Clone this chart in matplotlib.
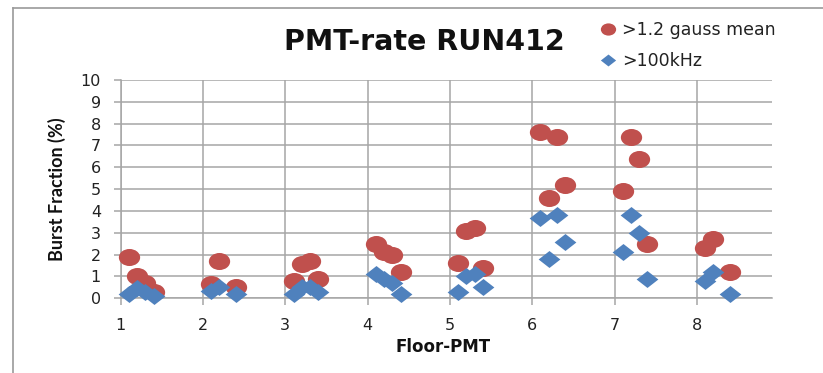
import matplotlib
matplotlib.use("Agg")
import numpy as np
import matplotlib.pyplot as plt
from matplotlib.lines import Line2D
from matplotlib.path import Path

# Data
gauss_x = [1.1, 1.2, 1.3, 1.4, 2.1, 2.2, 2.4, 3.1, 3.2, 3.3, 3.4,
           4.1, 4.2, 4.3, 4.4, 5.1, 5.2, 5.3, 5.4, 6.1, 6.2, 6.3, 6.4,
           7.1, 7.2, 7.3, 7.4, 8.1, 8.2, 8.4]
gauss_y = [1.9, 1.0, 0.7, 0.3, 0.65, 1.7, 0.5, 0.8, 1.55, 1.7, 0.9,
           2.5, 2.1, 2.0, 1.2, 1.6, 3.1, 3.2, 1.4, 7.6, 4.6, 7.4, 5.2,
           4.9, 7.4, 6.4, 2.5, 2.3, 2.7, 1.2]
khz_x = [1.1, 1.2, 1.3, 1.4, 2.1, 2.2, 2.4, 3.1, 3.2, 3.3, 3.4,
         4.1, 4.2, 4.3, 4.4, 5.1, 5.2, 5.3, 5.4, 6.1, 6.2, 6.3, 6.4,
         7.1, 7.2, 7.3, 7.4, 8.1, 8.2, 8.4]
khz_y = [0.2, 0.45, 0.3, 0.1, 0.35, 0.5, 0.2, 0.2, 0.5, 0.5, 0.3,
         1.1, 0.9, 0.7, 0.2, 0.3, 1.0, 1.1, 0.5, 3.7, 1.8, 3.8, 2.6,
         2.1, 3.8, 3.0, 0.9, 0.8, 1.2, 0.2]
x_ticks = [1, 2, 3, 4, 5, 6, 7, 8]
y_ticks = list(range(0, 11))

title = "PMT-rate RUN412"
label_gauss = ">1.2 gauss mean"
label_khz = ">100kHz"
xlabel = "Floor-PMT"
ylabel = "Burst Fraction (%)"

RED = "#C0504D"
BLUE = "#4F81BD"
GRID = "#A6A6A6"

# slightly flattened markers (reference is horizontally stretched)
_c = Path.unit_circle()
ELLIPSE = Path(_c.vertices * np.array([1.0, 0.8]), _c.codes)
DIAMOND = Path([(0, 0.78), (1, 0), (0, -0.78), (-1, 0), (0, 0.78)],
               [Path.MOVETO, Path.LINETO, Path.LINETO, Path.LINETO, Path.CLOSEPOLY])

W, H = 823, 373
fig = plt.figure(figsize=(W / 100, H / 100), dpi=100)

def fx(px):
    return px / W

def fy(py):
    return 1 - py / H

left, right, top, bottom = 120.7, 771.7, 80.0, 298.3
ax = fig.add_axes([fx(left), fy(bottom), fx(right) - fx(left), fy(top) - fy(bottom)])
ax.set_xlim(1, 8.91)
ax.set_ylim(0, 10)

ax.scatter(gauss_x, gauss_y, s=235, marker=ELLIPSE, color=RED, linewidths=0, zorder=3, clip_on=False)
ax.scatter(khz_x, khz_y, s=245, marker=DIAMOND, color=BLUE, linewidths=0, zorder=4, clip_on=False)

ax.set_xticks(x_ticks)
ax.set_yticks(y_ticks)
ax.grid(True, color=GRID, linewidth=1.1, zorder=0)
ax.set_axisbelow(True)
for s in ["top", "right"]:
    ax.spines[s].set_visible(False)
for s in ["left", "bottom"]:
    ax.spines[s].set_color(GRID)
    ax.spines[s].set_linewidth(1.1)
ax.tick_params(axis="both", color=GRID, length=5.2, width=1.1, labelsize=11.5,
               labelcolor="#222222", pad=9)
for lab in ax.get_xticklabels() + ax.get_yticklabels():
    lab.set_family("DejaVu Sans")

fig.text(fx(57), fy(189), ylabel, rotation=90, ha="center", va="center",
         fontsize=13, fontweight="bold", family="Lato", color="#111111")
fig.text(fx(443), fy(347), xlabel, ha="center", va="center",
         fontsize=12, fontweight="bold", family="DejaVu Sans", color="#111111")
fig.text(fx(424), fy(42), title, ha="center", va="center",
         fontsize=20.5, fontweight="bold", family="DejaVu Sans", color="#111111")

handles = [
    Line2D([], [], marker=ELLIPSE, linestyle="none", color=RED, markersize=11, markeredgewidth=0),
    Line2D([], [], marker=DIAMOND, linestyle="none", color=BLUE, markersize=11, markeredgewidth=0),
]
leg = fig.legend(handles, [label_gauss, label_khz], loc="upper left",
                 bbox_to_anchor=(fx(601), fy(21)), frameon=False,
                 handlelength=0.8, handletextpad=0.4, labelspacing=0.75,
                 borderaxespad=0, borderpad=0,
                 prop={"family": "DejaVu Sans", "size": 12.5})
for t in leg.get_texts():
    t.set_color("#222222")

# outer border lines (top and left)
fig.add_artist(Line2D([fx(13), 1], [fy(8), fy(8)], color="#9A9A9A", linewidth=1.2))
fig.add_artist(Line2D([fx(13), fx(13)], [fy(8), 0], color="#9A9A9A", linewidth=1.2))

fig.savefig("out.png", dpi=100)
